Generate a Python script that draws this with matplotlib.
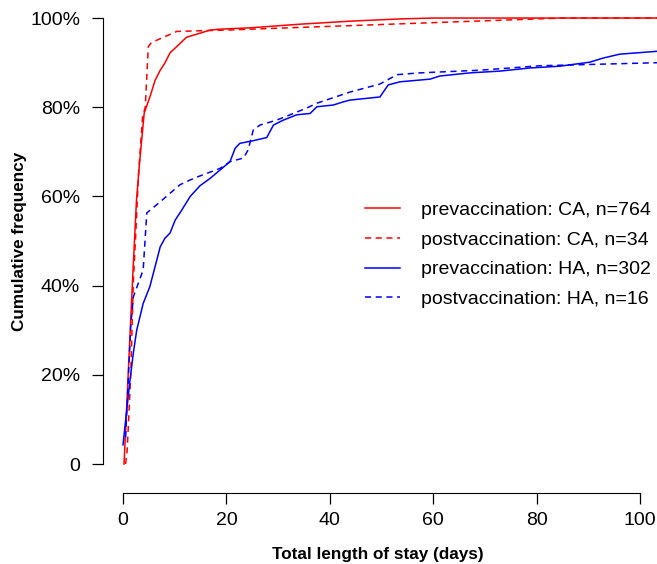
import matplotlib
matplotlib.use("Agg")
import matplotlib.pyplot as plt

plt.rcParams['font.family'] = ['Liberation Sans', 'DejaVu Sans']

# (days, cumulative fraction)
ca_pre_x = [0.2, 1.0, 2.0, 2.6, 3.2, 4.1, 5.2, 6.2, 7.2, 8.1, 9.1, 10.4, 12.3, 14.9, 16.8,
            18.8, 24.6, 34.0, 44.0, 53.6, 60.0, 80.0, 104.0]
ca_pre_y = [0.0, 0.2, 0.45, 0.59, 0.675, 0.787, 0.823, 0.86, 0.883, 0.899, 0.922, 0.936,
            0.957, 0.966, 0.973, 0.975, 0.978, 0.986, 0.993, 0.998, 1.0, 1.0, 1.0]

ca_post_x = [0.5, 0.8, 1.5, 2.0, 2.4, 3.0, 3.8, 4.3, 4.9, 5.5, 10.4, 20.0, 85.0, 104.0]
ca_post_y = [0.0, 0.03, 0.2, 0.41, 0.5, 0.65, 0.78, 0.8, 0.936, 0.945, 0.97, 0.973, 1.0, 1.0]

ha_pre_x = [0.0, 1.35, 2.0, 2.65, 3.9, 5.2, 7.2, 8.1, 9.1, 10.1, 11.4, 13.0, 14.9, 16.8,
            20.7, 21.7, 22.6, 25.2, 27.8, 29.1, 31.0, 33.6, 36.2, 37.5, 40.7, 42.6, 43.9,
            49.7, 51.3, 53.6, 59.4, 61.3, 67.1, 72.9, 78.7, 84.5, 90.3, 92.8, 96.1, 104.0]
ha_pre_y = [0.043, 0.188, 0.249, 0.30, 0.36, 0.398, 0.487, 0.506, 0.518, 0.547, 0.57, 0.60,
            0.624, 0.64, 0.678, 0.708, 0.719, 0.725, 0.732, 0.76, 0.771, 0.783, 0.786, 0.801,
            0.805, 0.812, 0.816, 0.823, 0.85, 0.857, 0.863, 0.87, 0.877, 0.881, 0.888, 0.892,
            0.901, 0.91, 0.919, 0.926]

ha_post_x = [0.5, 1.5, 2.0, 3.9, 4.6, 7.2, 11.0, 13.0, 14.9, 18.8, 20.7, 23.3, 24.2, 25.2,
             26.5, 29.7, 32.3, 35.5, 37.5, 43.9, 49.7, 53.0, 57.4, 69.0, 80.7, 104.0]
ha_post_y = [0.06, 0.31, 0.375, 0.435, 0.563, 0.588, 0.626, 0.637, 0.646, 0.663, 0.678,
             0.686, 0.704, 0.749, 0.76, 0.771, 0.783, 0.798, 0.809, 0.834, 0.852, 0.873,
             0.877, 0.883, 0.893, 0.90]

labels = ["prevaccination: CA, n=764", "postvaccination: CA, n=34",
          "prevaccination: HA, n=302", "postvaccination: HA, n=16"]

fig = plt.figure(figsize=(6.57, 5.64), dpi=100)
ax = fig.add_axes([103 / 657, 71 / 564, 554 / 657, 483 / 564])

dash = (0, (4, 3))
ax.plot(ca_pre_x, ca_pre_y, color='#ff0000', lw=1.1, label=labels[0])
ax.plot(ca_post_x, ca_post_y, color='#ff0000', lw=1.1, ls=dash, label=labels[1])
ax.plot(ha_pre_x, ha_pre_y, color='#0000ff', lw=1.1, label=labels[2])
ax.plot(ha_post_x, ha_post_y, color='#0000ff', lw=1.1, ls=dash, label=labels[3])

ax.set_xlim(-3.87, 103.3)
ax.set_ylim(-0.065, 1.018)

for s in ['top', 'right']:
    ax.spines[s].set_visible(False)
ax.spines['left'].set_bounds(0, 1)
ax.spines['bottom'].set_bounds(0, 100)

ax.set_xticks([0, 20, 40, 60, 80, 100])
ax.set_yticks([0, 0.2, 0.4, 0.6, 0.8, 1.0])
ax.set_yticklabels(['0', '20%', '40%', '60%', '80%', '100%'])
ax.tick_params(axis='both', length=8, width=0.9, labelsize=14)
ax.tick_params(axis='y', pad=8.5)
ax.tick_params(axis='x', pad=5.5)

leg = ax.legend(frameon=False, fontsize=14, handlelength=1.8, handletextpad=1.05,
                labelspacing=0.62, loc='upper left', bbox_to_anchor=(0.442, 0.64))

fig.text(378 / 657, 1 - 555 / 564, 'Total length of stay (days)', ha='center', va='center',
         fontsize=12.3, fontweight='bold')
fig.text(20 / 657, 1 - 241 / 564, 'Cumulative frequency', ha='center', va='center',
         rotation=90, fontsize=12.3, fontweight='bold')

fig.savefig('out.png', dpi=100)
